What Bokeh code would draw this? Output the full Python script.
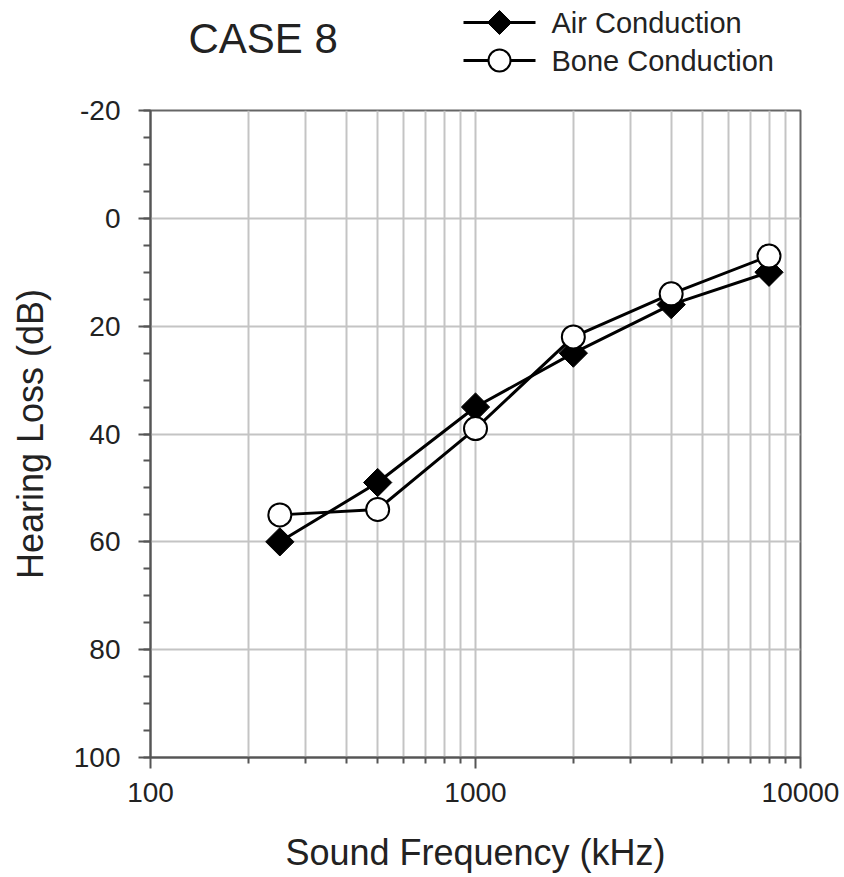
import numpy as np
from bokeh.plotting import figure
from bokeh.layouts import column
from bokeh.models import Range1d, FixedTicker, PrintfTickFormatter
from bokeh.core.properties import value
from bokeh.embed import file_html
from bokeh.resources import INLINE

# ---- data ----
freqs = [250, 500, 1000, 2000, 4000, 8000]
air = [60, 49, 35, 25, 16, 10]
bone = [55, 54, 39, 22, 14, 7]
x_ticks = [100, 1000, 10000]
y_ticks = [-20, 0, 20, 40, 60, 80, 100]
title_text = "CASE 8"
x_label = "Sound Frequency (kHz)"
y_label = "Hearing Loss (dB)"
series_names = ["Air Conduction", "Bone Conduction"]

FONT = "Liberation Sans"
TXT = "#222222"
AX = "#555555"
GRID = "#c4c4c4"
W, H_HEAD = 844, 80
H_MAIN = 877 - H_HEAD
B_LEFT, B_RIGHT = 150, 44

# ---- main chart ----
p = figure(width=W, height=H_MAIN, x_axis_type="log",
           x_range=Range1d(x_ticks[0], x_ticks[-1]),
           y_range=Range1d(y_ticks[-1], y_ticks[0]),
           output_backend="svg", toolbar_location=None,
           min_border_left=B_LEFT, min_border_right=B_RIGHT,
           min_border_top=110 - H_HEAD, min_border_bottom=120)
p.background_fill_color = "white"
p.border_fill_color = "white"
p.outline_line_color = "#666666"
p.outline_line_width = 2

x_minor = [m * d for d in x_ticks[:-1] for m in range(2, 10)]
y_minor = list(range(y_ticks[0], y_ticks[-1] + 1, 5))
xt = FixedTicker(ticks=x_ticks, minor_ticks=x_minor)
yt = FixedTicker(ticks=y_ticks, minor_ticks=y_minor)
p.xaxis.ticker = xt
p.yaxis.ticker = yt
p.xgrid.ticker = xt
p.ygrid.ticker = FixedTicker(ticks=y_ticks)

p.xgrid.grid_line_color = GRID
p.xgrid.grid_line_width = 2
p.xgrid.minor_grid_line_color = GRID
p.xgrid.minor_grid_line_width = 2
p.ygrid.grid_line_color = GRID
p.ygrid.grid_line_width = 2

for ax in (p.xaxis, p.yaxis):
    ax.formatter = PrintfTickFormatter(format="%d")
    ax.axis_line_color = AX
    ax.axis_line_width = 2
    ax.major_tick_line_color = AX
    ax.major_tick_line_width = 2
    ax.minor_tick_line_color = AX
    ax.minor_tick_line_width = 2
    ax.major_tick_in = 0
    ax.minor_tick_in = 0
    ax.major_label_text_font = FONT
    ax.major_label_text_font_size = "28px"
    ax.major_label_text_color = TXT
    ax.axis_label_text_font = FONT
    ax.axis_label_text_font_size = "36px"
    ax.axis_label_text_font_style = "normal"
    ax.axis_label_text_color = TXT

p.xaxis.axis_label = x_label
p.yaxis.axis_label = y_label
p.xaxis.major_tick_out = 11
p.xaxis.minor_tick_out = 6
p.xaxis.major_label_standoff = 14
p.xaxis.axis_label_standoff = 27
p.yaxis.major_tick_out = 12
p.yaxis.minor_tick_out = 7
p.yaxis.major_label_standoff = 18
p.yaxis.axis_label_standoff = 20

LINE_W = 3
SQ_SIZE = 20      # rotated square -> diamond
CIRC_SIZE = 23

p.line(freqs, air, line_color="black", line_width=LINE_W)
p.scatter(freqs, air, marker="square", angle=np.pi / 4, size=SQ_SIZE,
          fill_color="black", line_color="black", line_width=1)
p.line(freqs, bone, line_color="black", line_width=LINE_W)
p.scatter(freqs, bone, marker="circle", size=CIRC_SIZE,
          fill_color="white", line_color="black", line_width=2)

# ---- header: title + legend, laid out in page pixel space ----
h = figure(width=W, height=H_HEAD,
           x_range=Range1d(B_LEFT, W - B_RIGHT), y_range=Range1d(H_HEAD, 0),
           output_backend="svg", toolbar_location=None,
           x_axis_location=None, y_axis_location=None,
           min_border_left=B_LEFT, min_border_right=B_RIGHT,
           min_border_top=0, min_border_bottom=0)
h.outline_line_color = None
h.background_fill_color = "white"
h.border_fill_color = "white"
h.xgrid.visible = False
h.ygrid.visible = False

h.text(x=[188], y=[38], text=[title_text], text_font=value(FONT),
       text_font_size="42px", text_baseline="middle", text_align="left",
       text_color=TXT)

KEY_X0, KEY_X1, KEY_XC, LBL_X = 463, 535, 499, 551
ROW_Y = [22, 60]
h.segment(x0=[KEY_X0] * 2, x1=[KEY_X1] * 2, y0=ROW_Y, y1=ROW_Y,
          line_color="black", line_width=LINE_W)
h.scatter(x=[KEY_XC], y=[ROW_Y[0]], marker="square", angle=np.pi / 4, size=17,
          fill_color="black", line_color="black", line_width=1)
h.scatter(x=[KEY_XC], y=[ROW_Y[1]], marker="circle", size=22,
          fill_color="white", line_color="black", line_width=2)
h.text(x=[LBL_X] * 2, y=ROW_Y, text=series_names, text_font=value(FONT),
       text_font_size="29px", text_baseline="middle", text_align="left",
       text_color=TXT)

layout = column(h, p, spacing=0)
open("out.html", "w").write(file_html(layout, INLINE))
